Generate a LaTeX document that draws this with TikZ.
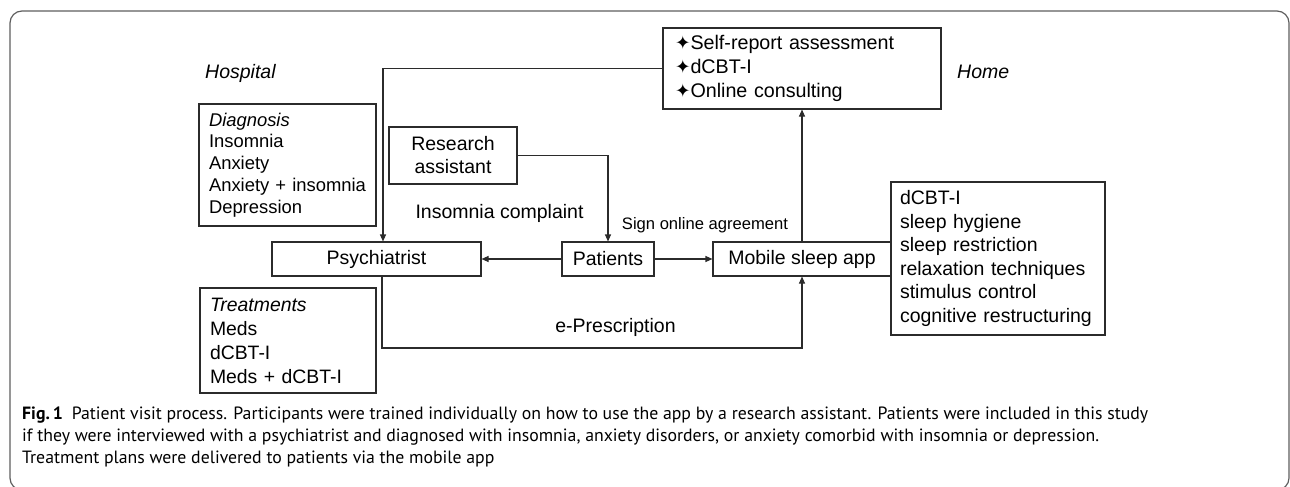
\documentclass[tikz,border=0pt]{standalone}
\usepackage{fontspec}
\setmainfont{Liberation Sans}
\newfontfamily\dejavu{DejaVu Sans}
\newfontfamily\capfont{PT Sans}
\usetikzlibrary{arrows.meta}
\definecolor{ln}{HTML}{2B2B2B}
\definecolor{frm}{HTML}{5E5E5E}
\definecolor{captxt}{HTML}{231F20}
\newcommand{\mystar}{{\dejavu\fontsize{18.5}{18.5}\selectfont ✦}}
\newcommand{\capset}{\capfont\fontsize{17}{22}\selectfont}
\newsavebox\capA
\newsavebox\capB
\newsavebox\capC
\newlength\capAwd
\begin{document}
\sbox\capA{\capset\textbf{Fig.\,1}\enspace Patient visit process. Participants were trained individually on how to use the app by a research assistant. Patients were included in this study}%
\sbox\capB{\capset if they were interviewed with a psychiatrist and diagnosed with insomnia, anxiety disorders, or anxiety comorbid with insomnia or depression.}%
\sbox\capC{\capset Treatment plans were delivered to patients via the mobile app}%
\setlength\capAwd{\wd\capA}%
\begin{tikzpicture}[x=1pt,y=-1pt,
  box/.style={draw=ln,line width=1.1pt,inner sep=0pt,text=black,
    font=\fontsize{19.5}{22}\selectfont},
  listbox/.style={box,align=left,inner xsep=10pt},
  arr/.style={draw=ln,line width=1.1pt,-{Triangle[length=7pt,width=6pt]}},
  lbl/.style={inner sep=0pt,font=\fontsize{19.5}{22}\selectfont},
  caption/.style={inner sep=0pt,anchor=base west,text=captxt}]
\pgfmathsetmacro\capscale{1126pt/\capAwd}
\useasboundingbox (0,0) rectangle (1290,487);
\clip (0,0) rectangle (1290,487);
\draw[frm,line width=1.2pt,rounded corners=12pt] (10,11) rectangle (1289,490);

% boxes
\node[listbox,minimum width=278pt,minimum height=81pt,text width=254pt,inner xsep=12pt,
  font=\fontsize{19.7}{24}\selectfont] (sr) at (802,68.5)
  {\mystar Self-report assessment\\ \mystar dCBT-I\\ \mystar Online consulting};
\node[listbox,minimum width=177pt,minimum height=122pt,text width=157pt,
  font=\fontsize{18.4}{21.8}\selectfont] (dx) at (287.5,165)
  {\textit{Diagnosis}\\ Insomnia\\ Anxiety\\ \mbox{Anxiety + insomnia}\\ Depression};
\node[box,align=center,minimum width=128pt,minimum height=57pt,
  font=\fontsize{19.5}{23}\selectfont] (ra) at (453,155.5) {Research\\ assistant};
\node[box,minimum width=209pt,minimum height=34pt] (psych) at (376.5,259) {Psychiatrist};
\node[box,minimum width=92pt,minimum height=34pt] (pat) at (608,259) {Patients};
\node[box,minimum width=178pt,minimum height=34pt] (mob) at (802,259) {Mobile sleep app};
\node[listbox,minimum width=214pt,minimum height=153pt,text width=196pt,inner xsep=9pt,
  font=\fontsize{19.5}{23.6}\selectfont] (tech) at (998,258.5)
  {dCBT-I\\ sleep hygiene\\ sleep restriction\\ relaxation techniques\\ stimulus control\\ \mbox{cognitive restructuring}};
\node[listbox,minimum width=176pt,minimum height=105pt,text width=156pt,
  font=\fontsize{19.4}{24}\selectfont] (tx) at (288,340.5)
  {\textit{Treatments}\\ Meds\\ dCBT-I\\ \mbox{Meds + dCBT-I}};

% labels
\node[lbl,anchor=west,font=\itshape\fontsize{19.5}{22}\selectfont] (hosp) at (205,73) {Hospital};
\node[lbl,anchor=west,font=\itshape\fontsize{19.5}{22}\selectfont] (home) at (957,72) {Home};
\node[lbl] (ic) at (499.5,213) {Insomnia complaint};
\node[lbl,font=\fontsize{16.6}{20}\selectfont] (soa) at (705,225) {Sign online agreement};
\node[lbl] (ep) at (615.5,327) {e-Prescription};

% connectors
\draw[arr] (sr.west) -| ([xshift=6.5pt]psych.north);
\draw[arr] (ra.east) -| (pat.north);
\draw[arr] (pat.west) -- (psych.east);
\draw[arr] (pat.east) -- (mob.west);
\draw[arr] (mob.north) -- (sr.south);
\coordinate (epc) at (600,348);
\draw[arr] ([xshift=5.5pt]psych.south) |- (epc) -| (mob.south);

% caption
\node[caption] (c1) at (22,419) {\scalebox{\capscale}{\usebox\capA}};
\node[caption] (c2) at (22,441) {\scalebox{\capscale}{\usebox\capB}};
\node[caption] (c3) at (22,463) {\scalebox{\capscale}{\usebox\capC}};
\end{tikzpicture}
\end{document}
